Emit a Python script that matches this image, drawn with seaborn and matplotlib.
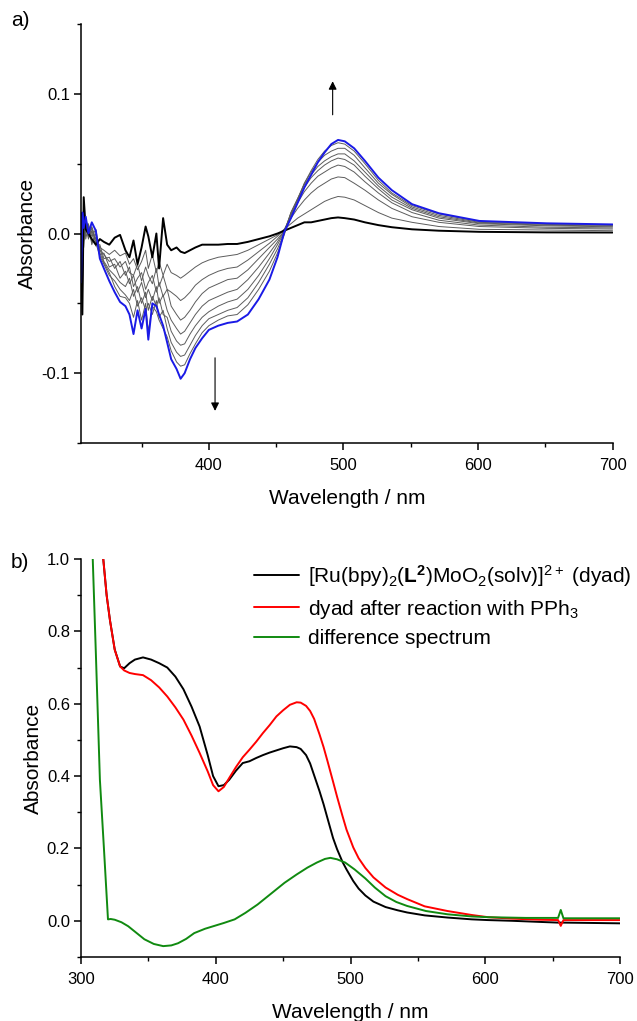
import numpy as np
import pandas as pd
import matplotlib
matplotlib.use("Agg")
import matplotlib.pyplot as plt
import seaborn as sns
from matplotlib.ticker import MultipleLocator, FormatStrFormatter

# ---------------- Panel a: difference spectra during reaction ----------------
a_wavelength = [305, 306, 307, 308.5, 310.5, 313, 316, 319, 322, 326, 330, 334, 338, 341, 344,
                347, 350, 353, 355, 358, 361, 363, 366, 369, 372, 376, 379, 382, 386, 390,
                395, 400, 407, 414, 421, 429, 437, 445, 451, 456, 461, 466, 471, 476, 481,
                486, 491, 496, 501, 508, 516, 526, 536, 551, 571, 601, 651, 700]

a_initial = [-0.010, -0.058, 0.026, 0.003, 0.000, -0.004, -0.008, -0.004, -0.006, -0.008,
             -0.003, -0.001, -0.012, -0.017, -0.005, -0.022, -0.010, 0.005, -0.002, -0.017,
             0.000, -0.025, 0.011, -0.008, -0.012, -0.010, -0.013, -0.014, -0.012, -0.010,
             -0.008, -0.008, -0.008, -0.0075, -0.0075, -0.006, -0.004, -0.002, 0.000, 0.002,
             0.004, 0.006, 0.008, 0.008, 0.009, 0.010, 0.011, 0.0115, 0.011, 0.010,
             0.008, 0.006, 0.0045, 0.003, 0.002, 0.0012, 0.0008, 0.0007]
a_step1 = [0.005, -0.040, 0.018, 0.006, -0.003, 0.002, -0.006, -0.010, -0.012, -0.015,
           -0.012, -0.016, -0.014, -0.022, -0.018, -0.026, -0.020, -0.012, -0.025, -0.015,
           -0.028, -0.020, -0.030, -0.022, -0.028, -0.030, -0.032, -0.030, -0.027, -0.024,
           -0.021, -0.019, -0.017, -0.016, -0.015, -0.012, -0.008, -0.004, -0.001, 0.003,
           0.007, 0.011, 0.014, 0.017, 0.020, 0.023, 0.025, 0.0265, 0.026, 0.024,
           0.020, 0.015, 0.011, 0.008, 0.005, 0.003, 0.0025, 0.002]
a_step2 = [-0.020, 0.015, -0.010, 0.010, 0.004, -0.006, -0.003, -0.012, -0.015, -0.020,
           -0.018, -0.024, -0.020, -0.028, -0.030, -0.022, -0.034, -0.024, -0.030, -0.036,
           -0.025, -0.038, -0.030, -0.040, -0.042, -0.045, -0.048, -0.046, -0.042, -0.037,
           -0.033, -0.030, -0.027, -0.025, -0.024, -0.019, -0.013, -0.007, -0.002, 0.003,
           0.011, 0.018, 0.024, 0.029, 0.033, 0.036, 0.039, 0.0405, 0.040, 0.036,
           0.031, 0.024, 0.018, 0.012, 0.008, 0.005, 0.0037, 0.0032]
a_step3 = [0.010, -0.050, 0.020, -0.004, 0.006, 0.000, -0.009, -0.008, -0.018, -0.017,
           -0.025, -0.020, -0.030, -0.024, -0.038, -0.032, -0.028, -0.040, -0.035, -0.030,
           -0.042, -0.035, -0.045, -0.040, -0.052, -0.058, -0.062, -0.060, -0.055, -0.049,
           -0.043, -0.039, -0.036, -0.033, -0.032, -0.026, -0.018, -0.010, -0.004, 0.002,
           0.013, 0.022, 0.030, 0.036, 0.041, 0.044, 0.047, 0.049, 0.048, 0.044,
           0.037, 0.029, 0.022, 0.015, 0.0095, 0.006, 0.0045, 0.004]
a_step4 = [-0.030, 0.012, 0.005, 0.008, -0.002, 0.005, -0.004, -0.015, -0.014, -0.024,
           -0.022, -0.032, -0.027, -0.036, -0.030, -0.042, -0.035, -0.046, -0.040, -0.048,
           -0.038, -0.050, -0.044, -0.055, -0.062, -0.068, -0.072, -0.070, -0.064, -0.058,
           -0.052, -0.048, -0.045, -0.042, -0.040, -0.033, -0.024, -0.014, -0.006, 0.002,
           0.014, 0.024, 0.033, 0.040, 0.045, 0.049, 0.052, 0.054, 0.053, 0.049,
           0.041, 0.032, 0.024, 0.017, 0.011, 0.007, 0.0055, 0.0048]
a_step5 = [0.000, -0.045, 0.015, 0.002, 0.007, -0.008, 0.000, -0.011, -0.020, -0.026,
           -0.030, -0.035, -0.038, -0.032, -0.045, -0.038, -0.050, -0.042, -0.055, -0.045,
           -0.052, -0.046, -0.058, -0.060, -0.070, -0.077, -0.080, -0.079, -0.072, -0.066,
           -0.060, -0.056, -0.052, -0.049, -0.047, -0.040, -0.030, -0.018, -0.008, 0.001,
           0.015, 0.025, 0.035, 0.042, 0.048, 0.052, 0.055, 0.057, 0.057, 0.052,
           0.044, 0.034, 0.026, 0.018, 0.012, 0.0075, 0.006, 0.0053]
a_step6 = [-0.040, 0.010, -0.005, 0.010, -0.004, 0.004, -0.007, -0.016, -0.022, -0.030,
           -0.034, -0.040, -0.044, -0.048, -0.040, -0.052, -0.046, -0.055, -0.050, -0.058,
           -0.048, -0.060, -0.055, -0.068, -0.078, -0.085, -0.088, -0.087, -0.080, -0.073,
           -0.066, -0.061, -0.058, -0.055, -0.053, -0.046, -0.035, -0.022, -0.011, 0.000,
           0.015, 0.025, 0.036, 0.044, 0.051, 0.056, 0.059, 0.061, 0.061, 0.056,
           0.047, 0.036, 0.028, 0.019, 0.013, 0.008, 0.0065, 0.0058]
a_step7 = [0.008, -0.030, 0.012, 0.000, 0.005, -0.002, 0.003, -0.014, -0.021, -0.028,
           -0.038, -0.045, -0.046, -0.050, -0.060, -0.048, -0.062, -0.050, -0.070, -0.052,
           -0.056, -0.062, -0.068, -0.074, -0.084, -0.092, -0.095, -0.094, -0.086, -0.079,
           -0.071, -0.066, -0.062, -0.059, -0.058, -0.051, -0.040, -0.027, -0.014, -0.001,
           0.014, 0.024, 0.036, 0.045, 0.053, 0.059, 0.063, 0.065, 0.064, 0.059,
           0.050, 0.038, 0.029, 0.020, 0.014, 0.0085, 0.007, 0.0062]
a_final = [-0.035, 0.015, 0.004, 0.012, 0.000, 0.008, 0.002, -0.018, -0.025, -0.034,
           -0.042, -0.049, -0.052, -0.058, -0.072, -0.055, -0.068, -0.054, -0.076, -0.050,
           -0.052, -0.058, -0.066, -0.078, -0.090, -0.097, -0.104, -0.100, -0.090, -0.082,
           -0.075, -0.069, -0.066, -0.064, -0.063, -0.058, -0.047, -0.033, -0.017, 0.001,
           0.011, 0.022, 0.033, 0.042, 0.051, 0.058, 0.064, 0.067, 0.066, 0.061,
           0.052, 0.040, 0.031, 0.021, 0.0145, 0.009, 0.0073, 0.0065]

a_series = ["step1", "step2", "step3", "step4", "step5", "step6", "step7", "initial", "final"]
a_values = [a_step1, a_step2, a_step3, a_step4, a_step5, a_step6, a_step7, a_initial, a_final]

# ---------------- Panel b: absorption spectra ----------------
b_wavelength = [314, 316.5, 319, 321.5, 325, 329, 332, 336, 340, 346, 352, 358, 364, 370, 376,
                382, 388, 394, 398, 402, 406, 410, 415, 420, 425, 430, 435, 440, 445, 450,
                455, 460, 463, 467, 470, 473, 477, 480, 483, 487, 490, 494, 497, 502, 506,
                511, 517, 526, 535, 542, 555, 572, 590, 602, 620, 640, 654, 656, 658, 680, 700]
b_dyad = [1.15, 1.0, 0.90, 0.83, 0.75, 0.703, 0.698, 0.712, 0.722, 0.728,
          0.722, 0.712, 0.700, 0.675, 0.640, 0.592, 0.537, 0.458, 0.400, 0.372,
          0.375, 0.390, 0.415, 0.436, 0.441, 0.450, 0.458, 0.465, 0.471, 0.477,
          0.482, 0.480, 0.475, 0.458, 0.435, 0.402, 0.358, 0.322, 0.282, 0.229,
          0.198, 0.163, 0.142, 0.110, 0.089, 0.070, 0.053, 0.038, 0.029, 0.023,
          0.015, 0.009, 0.004, 0.002, 0.000, -0.003, -0.005, -0.005, -0.005, -0.006, -0.007]
b_after = [1.15, 1.0, 0.90, 0.83, 0.749, 0.703, 0.692, 0.685, 0.682, 0.679,
           0.665, 0.645, 0.620, 0.590, 0.556, 0.512, 0.464, 0.413, 0.375, 0.358,
           0.370, 0.395, 0.425, 0.452, 0.473, 0.495, 0.519, 0.541, 0.565, 0.582,
           0.597, 0.604, 0.603, 0.594, 0.580, 0.558, 0.515, 0.480, 0.440, 0.385,
           0.343, 0.290, 0.252, 0.203, 0.173, 0.146, 0.120, 0.092, 0.072, 0.060,
           0.040, 0.027, 0.016, 0.010, 0.006, 0.003, 0.002, -0.014, 0.002, 0.002, 0.002]
b_diff_wavelength = [305, 308.7, 311, 314, 317, 320, 322, 325, 330, 335, 340, 347, 354, 361, 367,
                     372, 378, 384, 392, 399, 406, 414, 422, 431, 441, 451, 460, 468, 475, 481,
                     485, 490, 496, 503, 511, 518, 526, 534, 542, 556, 572, 590, 602, 630, 654,
                     656, 658, 680, 700]
b_diff = [1.2, 1.0, 0.74, 0.39, 0.20, 0.004, 0.005, 0.003, -0.004, -0.015,
          -0.030, -0.051, -0.064, -0.070, -0.068, -0.062, -0.050, -0.034, -0.022, -0.014,
          -0.006, 0.004, 0.022, 0.045, 0.075, 0.105, 0.128, 0.147, 0.161, 0.171,
          0.174, 0.170, 0.161, 0.142, 0.117, 0.092, 0.068, 0.052, 0.041, 0.027,
          0.018, 0.012, 0.010, 0.008, 0.008, 0.030, 0.007, 0.007, 0.007]

b_labels = [r"[Ru(bpy)$_2$($\mathbf{L}^{\mathbf{2}}$)MoO$_2$(solv)]$^{2+}$ (dyad)",
            r"dyad after reaction with PPh$_3$",
            "difference spectrum"]

# ---------------- style ----------------
sns.set_style("ticks")
plt.rcParams["font.family"] = ["Liberation Sans", "DejaVu Sans"]
plt.rcParams["mathtext.fontset"] = "custom"
plt.rcParams["mathtext.rm"] = "Liberation Sans"
plt.rcParams["mathtext.it"] = "Liberation Sans:italic"
plt.rcParams["mathtext.bf"] = "Liberation Sans:bold"
plt.rcParams["axes.unicode_minus"] = False
plt.rcParams["axes.linewidth"] = 1.1
plt.rcParams["axes.edgecolor"] = "black"
plt.rcParams["text.color"] = "black"
plt.rcParams["axes.labelcolor"] = "black"
plt.rcParams["xtick.color"] = "black"
plt.rcParams["ytick.color"] = "black"

fig = plt.figure(figsize=(6.37, 10.21), dpi=100)
ax1 = fig.add_axes([0.1272, 0.5661, 0.8344, 0.4104])
ax2 = fig.add_axes([0.1272, 0.0627, 0.8462, 0.3898])

# panel a
rows = []
for name, vals in zip(a_series, a_values):
    for w, v in zip(a_wavelength, vals):
        rows.append((name, w, v))
df_a = pd.DataFrame(rows, columns=["spectrum", "wavelength", "absorbance"])
pal = {s: "#5c5c5c" for s in a_series[:7]}
pal["initial"] = "black"
pal["final"] = "#1a1ae6"
sizes = {s: 0.7 for s in a_series[:7]}
sizes["initial"] = 1.4
sizes["final"] = 1.4
sns.lineplot(data=df_a, x="wavelength", y="absorbance", hue="spectrum", size="spectrum",
             hue_order=a_series, size_order=a_series, palette=pal, sizes=sizes,
             estimator=None, sort=False, legend=False, ax=ax1)

ax1.set_xlim(305, 700)
ax1.set_ylim(-0.15, 0.15)
ax1.xaxis.set_major_locator(MultipleLocator(100))
ax1.xaxis.set_minor_locator(MultipleLocator(50))
ax1.yaxis.set_major_locator(MultipleLocator(0.1))
ax1.yaxis.set_minor_locator(MultipleLocator(0.05))
ax1.yaxis.set_major_formatter(FormatStrFormatter("%.1f"))
ax1.set_xlabel("Wavelength / nm", fontsize=15, labelpad=11)
ax1.set_ylabel("Absorbance", fontsize=15, labelpad=3)

arrow_up = (492, 0.085, 0.109)
arrow_down = (404.6, -0.089, -0.127)
for xa, y0, y1 in (arrow_up, arrow_down):
    ax1.annotate("", xy=(xa, y1), xytext=(xa, y0),
                 arrowprops=dict(arrowstyle="-|>", color="black", lw=0.8,
                                 mutation_scale=12, shrinkA=0, shrinkB=0))

# panel b
sns.lineplot(x=b_wavelength, y=b_dyad, color="black", linewidth=1.4, sort=False,
             estimator=None, label=b_labels[0], ax=ax2)
sns.lineplot(x=b_wavelength, y=b_after, color="#ff0000", linewidth=1.4, sort=False,
             estimator=None, label=b_labels[1], ax=ax2)
sns.lineplot(x=b_diff_wavelength, y=b_diff, color="#108a10", linewidth=1.4, sort=False,
             estimator=None, label=b_labels[2], ax=ax2)

ax2.set_xlim(300, 700)
ax2.set_ylim(-0.1, 1.0)
ax2.xaxis.set_major_locator(MultipleLocator(100))
ax2.xaxis.set_minor_locator(MultipleLocator(50))
ax2.yaxis.set_major_locator(MultipleLocator(0.2))
ax2.yaxis.set_minor_locator(MultipleLocator(0.1))
ax2.yaxis.set_major_formatter(FormatStrFormatter("%.1f"))
ax2.set_xlabel("Wavelength / nm", fontsize=15, labelpad=11)
ax2.set_ylabel("Absorbance", fontsize=15, labelpad=3)
ax2.legend(loc="upper left", bbox_to_anchor=(0.320, 0.99), frameon=False, fontsize=15,
           borderpad=0, borderaxespad=0, handlelength=2.2, handletextpad=0.4,
           labelspacing=0.42)

for ax in (ax1, ax2):
    sns.despine(ax=ax)
    ax.tick_params(which="major", direction="out", length=5, width=1.1,
                   labelsize=12, color="black", labelcolor="black")
    ax.tick_params(axis="y", which="major", pad=3)
    ax.tick_params(axis="x", which="major", pad=6)
    ax.tick_params(which="minor", direction="out", length=2.7, width=1.0, color="black")

fig.text(0.018, 0.980, "a)", fontsize=15, va="center", ha="left")
fig.text(0.016, 0.449, "b)", fontsize=15, va="center", ha="left")

fig.savefig("out.png", dpi=100)
